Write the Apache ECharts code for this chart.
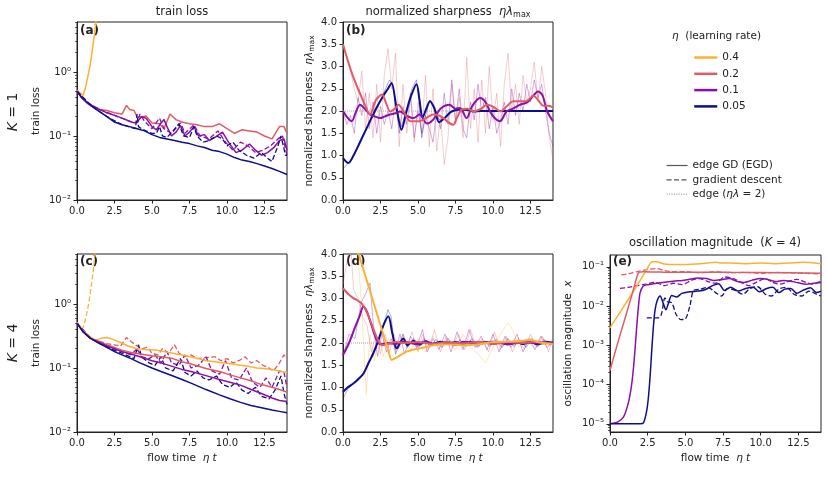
<!DOCTYPE html>
<html>
<head>
<meta charset="utf-8">
<script src="https://cdn.jsdelivr.net/npm/echarts@6/dist/echarts.min.js"></script>
<style>html,body{margin:0;padding:0;background:#fff}#chart{width:827px;height:494px}</style>
</head>
<body>
<div id="chart"></div>
<script>
var FONT = 'DejaVu Sans';
var INK = '#222';
var C04 = '#fcb131', C02 = '#df5c66', C01 = '#8b10a8', C005 = '#0e0e8a';

// tick labels
var tTicks = [0, 2.5, 5, 7.5, 10, 12.5];
var lossTicks = [-2, -1, 0];          // exponents of 10
var oscTicks = [-5, -4, -3, -2, -1];  // exponents of 10
var sharpTicks = [0, 0.5, 1, 1.5, 2, 2.5, 3, 3.5, 4];
var etaNames = ['0.4', '0.2', '0.1', '0.05'];

// (a) train loss, K = 1   [flow time, loss]
var a04 = [[0,0.52],[0.2,0.47],[0.4,0.43],[0.55,0.55],[0.7,0.8],[0.85,1.2],[1.0,2.0],[1.1,3.0],[1.2,4.5],[1.3,7]];
var a02 = [[0,0.5],[0.3,0.4],[0.7,0.32],[1.0,0.29],[1.5,0.26],[2.0,0.25],[2.5,0.23],[3.0,0.22],[3.3,0.3],[3.5,0.26],[3.8,0.25],[4.0,0.2],[4.3,0.2],[4.6,0.205],[5.0,0.16],[5.5,0.155],[5.8,0.13],[6.2,0.22],[6.6,0.18],[7.0,0.165],[7.5,0.155],[8.0,0.15],[8.5,0.14],[9.0,0.14],[9.5,0.155],[10.0,0.13],[10.5,0.11],[11.0,0.125],[11.5,0.12],[12.0,0.115],[12.5,0.1],[13.0,0.09],[13.5,0.14],[13.8,0.14],[14,0.11]];
var a01 = [[0,0.5],[0.3,0.4],[0.7,0.33],[1,0.3],[1.5,0.26],[2,0.23],[2.5,0.21],[3,0.19],[3.5,0.17],[3.8,0.16],[4.0,0.165],[4.3,0.2],[4.6,0.19],[5.0,0.14],[5.3,0.125],[5.6,0.16],[5.8,0.18],[6.0,0.14],[6.3,0.1],[6.6,0.115],[6.9,0.145],[7.2,0.1],[7.5,0.115],[7.8,0.14],[8.1,0.1],[8.5,0.105],[8.8,0.085],[9.2,0.095],[9.7,0.115],[10.1,0.08],[10.6,0.055],[11.0,0.06],[11.5,0.075],[11.9,0.06],[12.3,0.05],[12.7,0.055],[13.1,0.065],[13.5,0.085],[13.8,0.09],[14,0.06]];
var a01gd = [[0,0.5],[0.7,0.33],[1.5,0.26],[2.5,0.21],[3.5,0.17],[4.0,0.16],[4.2,0.22],[4.5,0.17],[5.0,0.13],[5.5,0.19],[5.8,0.13],[6.3,0.11],[6.9,0.16],[7.2,0.11],[7.8,0.15],[8.2,0.1],[8.8,0.09],[9.4,0.12],[9.9,0.08],[10.4,0.06],[10.9,0.08],[11.4,0.07],[11.9,0.055],[12.4,0.06],[12.9,0.07],[13.4,0.09],[13.7,0.1],[14,0.05]];
var a005 = [[0,0.5],[0.3,0.4],[0.7,0.33],[1,0.29],[1.5,0.24],[2,0.2],[2.5,0.165],[3,0.15],[3.5,0.14],[4,0.13],[4.5,0.12],[5,0.105],[5.5,0.095],[6,0.09],[6.5,0.085],[7,0.08],[7.5,0.076],[8,0.07],[8.5,0.066],[9,0.06],[9.5,0.057],[10,0.052],[10.5,0.046],[11,0.042],[11.5,0.04],[12,0.037],[12.5,0.034],[13,0.031],[13.5,0.028],[14,0.025]];
var a005gd = [[0,0.5],[1,0.29],[2,0.2],[3,0.15],[3.9,0.13],[4.0,0.22],[4.1,0.14],[4.3,0.13],[4.6,0.12],[5.0,0.11],[5.3,0.11],[5.5,0.14],[5.7,0.1],[6.0,0.095],[6.4,0.12],[6.8,0.155],[7.1,0.1],[7.5,0.095],[7.8,0.14],[8.0,0.1],[8.4,0.08],[8.8,0.085],[9.3,0.1],[9.7,0.09],[10,0.07],[10.4,0.08],[10.8,0.06],[11.3,0.05],[11.8,0.045],[12.3,0.055],[12.7,0.045],[13.0,0.04],[13.4,0.07],[13.6,0.1],[13.9,0.05],[14,0.05]];

// (b) normalized sharpness, K = 1   [flow time, eta*lambda_max]
var b02 = [[0,3.5],[0.35,3.1],[0.7,2.75],[1.0,2.5],[1.36,2.22],[1.8,1.92],[2.2,2.25],[2.6,2.37],[2.9,2.15],[3.15,1.99],[3.45,2.05],[3.7,2.14],[4.1,1.95],[4.5,1.77],[5.1,1.77],[5.6,1.85],[6.0,1.92],[6.4,1.9],[6.7,1.84],[7.0,1.75],[7.35,1.69],[7.6,1.85],[7.9,2.03],[8.3,2.05],[8.7,1.99],[9.2,2.05],[9.6,2.14],[10.0,2.1],[10.5,1.99],[10.9,2.1],[11.35,2.22],[11.8,2.22],[12.2,2.22],[12.7,2.34],[13.0,2.25],[13.35,2.12],[13.7,2.12],[14,2.08]];
var b01 = [[0,2.0],[0.3,1.85],[0.58,1.77],[0.85,1.97],[1.13,2.14],[1.45,2.05],[1.8,1.92],[2.1,1.88],[2.47,1.84],[2.8,1.88],[3.13,1.92],[3.5,1.95],[3.8,1.99],[4.2,1.9],[4.7,1.84],[5.1,1.92],[5.6,1.72],[6.0,1.8],[6.5,2.05],[7.1,2.14],[7.5,2.05],[7.8,2.07],[8.24,1.84],[8.6,2.1],[9.13,2.29],[9.5,2.2],[9.8,1.99],[10.1,1.85],[10.47,1.77],[10.9,1.99],[11.3,2.05],[11.8,2.14],[12.3,2.2],[12.7,2.35],[13.0,2.44],[13.3,2.35],[13.6,2.0],[14,1.77]];
var b005 = [[0,0.94],[0.36,0.83],[0.7,1.0],[1.2,1.35],[1.7,1.7],[2.2,2.05],[2.7,2.35],[3.0,2.5],[3.24,2.63],[3.55,2.1],[3.9,1.58],[4.2,1.95],[4.5,2.3],[4.9,2.6],[5.1,2.25],[5.3,1.85],[5.55,2.05],[5.8,2.22],[6.1,2.05],[6.4,1.75],[6.8,1.85],[7.2,1.98],[7.7,2.03],[8.2,2.03],[8.7,1.99],[9.2,2.0],[14,2.0]];
var b02gd = [[0,3.5],[0.25,3.2],[0.5,2.9],[0.75,2.5],[1.0,2.2],[1.25,2.9],[1.5,1.6],[1.75,2.4],[2.0,1.4],[2.25,2.6],[2.5,1.3],[2.75,2.8],[3.0,3.4],[3.25,2.5],[3.5,3.3],[3.75,1.2],[4.0,2.6],[4.25,1.5],[4.5,2.3],[4.75,1.3],[5.0,2.2],[5.25,1.5],[5.5,2.8],[5.75,1.2],[6.0,2.5],[6.25,1.1],[6.5,1.9],[6.75,0.8],[7.0,1.4],[7.25,2.6],[7.5,1.7],[7.75,2.3],[8.0,1.4],[8.25,3.2],[8.5,1.6],[8.75,2.5],[9.0,1.3],[9.25,2.7],[9.5,1.5],[9.75,3.0],[10.0,1.8],[10.25,2.4],[10.5,1.2],[10.75,2.6],[11.0,3.3],[11.25,2.0],[11.5,2.6],[11.75,1.7],[12.0,2.8],[12.25,2.2],[12.5,2.5],[12.75,3.1],[13.0,2.2],[13.25,3.0],[13.5,2.4],[13.75,1.4],[14.0,0.9]];
var b01gd = [[0,2.0],[0.25,1.7],[0.5,1.9],[0.75,1.5],[1.0,2.3],[1.25,1.9],[1.5,2.4],[1.75,1.6],[2.0,2.2],[2.25,1.5],[2.5,2.1],[2.75,1.7],[3.0,2.0],[3.25,1.6],[3.5,2.3],[3.75,1.5],[4.0,2.1],[4.25,1.7],[4.5,2.4],[4.75,1.4],[5.0,2.0],[5.25,1.5],[5.5,1.9],[5.75,1.6],[6.0,1.3],[6.25,2.0],[6.5,1.6],[6.75,2.4],[7.0,1.7],[7.25,2.7],[7.5,1.8],[7.75,2.5],[8.0,1.6],[8.25,1.4],[8.5,2.2],[8.75,1.8],[9.0,2.6],[9.25,2.0],[9.5,2.3],[9.75,1.6],[10.0,2.1],[10.25,1.5],[10.5,1.8],[10.75,2.2],[11.0,1.7],[11.25,2.5],[11.5,1.9],[11.75,2.4],[12.0,2.0],[12.25,2.6],[12.5,2.2],[12.75,2.7],[13.0,2.3],[13.25,2.6],[13.5,2.0],[13.75,1.5],[14.0,1.2]];
var b005gd = [[0,0.7],[0.4,0.85],[0.8,1.05],[1.2,1.3],[1.7,1.72],[2.2,2.0],[2.7,2.4],[3.1,2.7],[3.3,2.6],[3.6,2.0],[3.9,1.65],[4.2,2.0],[4.6,2.5],[4.9,2.7],[5.05,2.3],[5.25,1.4],[5.5,1.9],[5.8,2.25],[6.1,2.1],[6.4,1.8],[6.8,1.85],[7.2,2.0],[8,2.02],[9,2.0],[14,2.0]];

// (c) train loss, K = 4
var c04 = [[0,0.52],[0.4,0.38],[0.8,0.32],[1.2,0.27],[1.6,0.29],[2.0,0.3],[2.4,0.28],[2.9,0.25],[3.4,0.22],[4.0,0.2],[4.5,0.195],[5.3,0.19],[5.8,0.18],[6.4,0.17],[7,0.16],[7.5,0.15],[8.1,0.14],[8.6,0.13],[9.2,0.125],[9.8,0.12],[10.4,0.115],[10.9,0.11],[11.5,0.105],[12,0.1],[12.6,0.097],[13.2,0.093],[13.6,0.088],[14,0.085]];
var c04gd = [[0,0.5],[0.15,0.45],[0.35,0.4],[0.5,0.5],[0.7,0.8],[0.85,1.3],[1.0,2.3],[1.1,3.5],[1.2,6],[1.3,9]];
var c02 = [[0,0.5],[0.4,0.37],[0.9,0.29],[1.5,0.26],[2,0.23],[2.5,0.21],[3,0.19],[3.6,0.175],[4.2,0.165],[5,0.155],[5.6,0.15],[6.4,0.14],[7,0.125],[7.6,0.115],[8.6,0.098],[9.5,0.088],[10.2,0.078],[10.9,0.07],[11.6,0.063],[12.3,0.055],[13,0.05],[13.5,0.046],[14,0.042]];
var c02gd = [[0,0.5],[0.4,0.37],[0.9,0.29],[1.5,0.26],[2,0.24],[2.5,0.23],[2.9,0.22],[3.3,0.3],[3.6,0.26],[4.0,0.22],[4.3,0.2],[4.7,0.21],[5.0,0.17],[5.4,0.16],[5.7,0.2],[6.1,0.17],[6.5,0.23],[6.8,0.17],[7.2,0.15],[7.6,0.16],[8.0,0.14],[8.6,0.145],[9.2,0.15],[9.6,0.13],[10,0.14],[10.4,0.12],[10.8,0.13],[11.2,0.15],[11.6,0.12],[12,0.13],[12.4,0.11],[12.8,0.1],[13.1,0.09],[13.5,0.12],[13.8,0.16],[14,0.14]];
var c01 = [[0,0.5],[0.4,0.37],[0.9,0.29],[1.5,0.25],[2,0.22],[2.5,0.2],[3,0.18],[3.6,0.165],[4.2,0.15],[5,0.13],[5.6,0.12],[6.4,0.105],[7,0.095],[7.6,0.088],[8.6,0.076],[9.5,0.066],[10.2,0.06],[10.9,0.054],[11.6,0.046],[12.3,0.04],[13,0.034],[13.5,0.031],[14,0.03]];
var c01gd = [[0,0.5],[0.9,0.29],[2,0.22],[3,0.18],[3.6,0.16],[4.0,0.2],[4.3,0.15],[4.8,0.14],[5.2,0.16],[5.6,0.12],[6.0,0.18],[6.3,0.12],[6.8,0.11],[7.2,0.16],[7.6,0.1],[8.1,0.11],[8.6,0.15],[9.0,0.09],[9.5,0.08],[9.9,0.13],[10.3,0.07],[10.8,0.065],[11.3,0.1],[11.7,0.06],[12.2,0.05],[12.6,0.07],[13.0,0.05],[13.5,0.09],[13.8,0.085],[14,0.05]];
var c005 = [[0,0.5],[0.4,0.37],[0.9,0.29],[1.5,0.24],[2,0.21],[2.5,0.18],[3,0.16],[3.6,0.14],[4.2,0.12],[5,0.1],[5.6,0.088],[6.4,0.075],[7,0.066],[7.6,0.058],[8.6,0.046],[9.5,0.038],[10.2,0.033],[10.9,0.029],[11.6,0.026],[12.3,0.024],[13,0.022],[13.5,0.021],[14,0.02]];
var c005gd = [[0,0.5],[0.9,0.29],[2,0.21],[3,0.17],[3.8,0.14],[4.1,0.23],[4.3,0.15],[4.8,0.12],[5.2,0.11],[5.6,0.15],[5.9,0.1],[6.4,0.09],[6.9,0.14],[7.2,0.085],[7.6,0.075],[8.0,0.09],[8.4,0.07],[8.8,0.065],[9.3,0.075],[9.7,0.055],[10.2,0.05],[10.6,0.06],[11.0,0.045],[11.4,0.04],[11.9,0.05],[12.3,0.036],[12.8,0.033],[13.2,0.045],[13.6,0.075],[13.8,0.04],[14,0.027]];

// (d) normalized sharpness, K = 4
var d04 = [[0,5.2],[0.5,4.6],[1.0,4.05],[1.5,3.5],[2.0,2.95],[2.5,2.4],[3.0,1.85],[3.24,1.62],[3.6,1.68],[4.2,1.8],[4.8,1.86],[5.4,1.9],[6,1.95],[7,1.97],[8,1.95],[9,1.97],[10,2.02],[11,2.03],[12,2.05],[12.5,2.08],[13,2.02],[14,1.97]];
var d02 = [[0,3.23],[0.35,3.1],[0.69,3.01],[1.0,2.95],[1.24,2.89],[1.5,2.75],[1.8,2.52],[2.1,2.25],[2.36,2.05],[2.6,1.95],[2.9,1.97],[3.5,2.02],[4,2.0],[5,2.02],[6,1.98],[7,2.02],[8,1.99],[9,2.03],[10,1.98],[11,2.02],[12,2.0],[13,2.03],[14,1.98]];
var d01 = [[0,1.73],[0.4,2.0],[0.8,2.35],[1.1,2.6],[1.36,2.82],[1.6,2.7],[1.9,2.4],[2.24,2.07],[2.5,1.97],[3,2.0],[3.5,1.98],[4,2.03],[5,1.97],[5.5,2.04],[6,1.99],[7,2.02],[7.5,1.96],[8,2.03],[9,1.98],[10,2.03],[11,1.97],[12,2.02],[13,1.99],[14,2.01]];
var d005 = [[0,0.9],[0.3,1.0],[0.69,1.09],[1.0,1.18],[1.36,1.31],[1.7,1.55],[2.02,1.77],[2.4,2.1],[2.7,2.4],[3.02,2.6],[3.3,2.2],[3.58,1.88],[4.02,2.1],[4.3,1.95],[4.7,2.05],[5.1,1.96],[5.5,2.04],[6,1.97],[6.5,2.03],[7,1.98],[7.5,2.02],[8,1.98],[8.5,2.03],[9,1.97],[9.5,2.02],[10,1.98],[10.5,2.02],[11,1.97],[11.5,2.03],[12,1.98],[12.5,2.02],[13,1.97],[13.5,2.03],[14,2.0]];
var d04gd = [[0,5],[0.8,4.5],[1.0,4.0],[1.3,2.5],[1.55,0.85],[1.8,2.2],[2.1,1.6],[2.4,2.2],[2.7,1.7],[3.0,2.1],[3.5,1.8],[4,2.2],[4.5,1.85],[5,2.1],[5.5,1.8],[6,2.15],[6.5,1.9],[7,2.05],[7.5,1.85],[8,2.2],[8.5,1.9],[9,1.75],[9.5,1.55],[10,1.9],[10.5,2.2],[11,2.45],[11.3,2.3],[11.7,1.9],[12.2,2.1],[12.7,1.9],[13.2,2.15],[13.7,1.95],[14,2.05]];
var d02gd = [[0,3.3],[0.3,3.9],[0.5,4.3],[0.7,3.2],[1.0,3.0],[1.3,2.6],[1.6,2.4],[1.9,1.8],[2.2,2.2],[2.5,1.75],[2.8,2.2],[3.1,1.8],[3.4,2.2],[3.7,1.85],[4.0,2.1],[4.3,1.9],[4.6,2.25],[5.0,1.8],[5.3,2.2],[5.7,1.85],[6.1,2.3],[6.5,1.8],[6.9,2.15],[7.3,1.9],[7.7,2.2],[8.1,1.85],[8.5,2.3],[8.9,1.9],[9.3,2.1],[9.7,1.8],[10.1,2.25],[10.5,1.85],[10.9,2.15],[11.3,1.8],[11.7,2.1],[12.1,1.85],[12.5,2.2],[12.9,1.9],[13.3,2.15],[13.7,1.8],[14,2.15]];
var d01gd = [[0,1.7],[0.4,2.2],[0.8,2.1],[1.2,2.9],[1.5,3.1],[1.8,3.35],[2.0,2.5],[2.3,1.7],[2.6,2.2],[2.9,1.8],[3.2,2.1],[3.5,1.85],[3.8,2.2],[4.1,1.75],[4.5,2.15],[4.9,1.9],[5.3,2.3],[5.6,1.8],[6.0,2.1],[6.4,1.85],[6.8,2.2],[7.2,1.8],[7.6,2.25],[8.0,1.85],[8.4,2.3],[8.8,1.9],[9.2,2.15],[9.6,1.85],[10,2.2],[10.4,1.8],[10.8,2.15],[11.2,1.9],[11.6,2.2],[12,1.8],[12.4,2.1],[12.8,1.85],[13.2,2.15],[13.6,1.9],[14,2.05]];
var d005gd = [[0,0.75],[0.3,0.95],[0.7,1.1],[1.0,1.2],[1.4,1.35],[1.8,1.6],[2.2,1.95],[2.6,2.3],[3.0,2.75],[3.2,2.6],[3.5,1.75],[3.8,2.0],[4.0,2.2],[4.3,1.9],[4.7,2.1],[5.0,1.9],[5.4,2.1],[5.8,1.92],[6.2,2.08],[6.6,1.9],[7,2.1],[7.4,1.93],[7.8,2.07],[8.2,1.92],[8.6,2.1],[9,1.9],[9.4,2.05],[9.8,1.92],[10.2,2.08],[10.6,1.9],[11,2.1],[11.4,1.92],[11.8,2.07],[12.2,1.9],[12.6,2.1],[13,1.92],[13.4,2.08],[13.8,1.95],[14,2.0]];

// (e) oscillation magnitude, K = 4
var e04 = [[0,0.0028],[0.5,0.0055],[1,0.011],[1.5,0.022],[2,0.045],[2.4,0.08],[2.77,0.135],[3.1,0.135],[3.5,0.12],[4,0.115],[5,0.115],[6,0.12],[7,0.13],[7.5,0.125],[8,0.125],[9,0.12],[10,0.125],[11,0.12],[12,0.125],[12.8,0.13],[14,0.12]];
var e02 = [[0,0.00023],[0.5,0.0011],[1,0.0049],[1.5,0.022],[1.88,0.07],[2.2,0.075],[3,0.074],[4,0.072],[6,0.073],[8,0.072],[10,0.071],[12,0.07],[14,0.068]];
var e02gd = [[0.75,0.062],[1.2,0.066],[1.8,0.075],[2.5,0.085],[3.1,0.09],[3.6,0.08],[4.3,0.075],[5,0.075],[6,0.07],[7,0.075],[8,0.07],[9,0.072],[10,0.068],[11,0.072],[12,0.07],[13,0.068],[14,0.066]];
var e01 = [[0,1e-5],[0.5,1.1e-5],[0.9,1.5e-5],[1.2,3.2e-5],[1.4,8e-5],[1.5,1.6e-4],[1.6,4e-4],[1.7,1.26e-3],[1.8,4e-3],[1.9,0.011],[2.0,0.022],[2.2,0.032],[2.5,0.035],[2.88,0.037],[3.5,0.04],[4.2,0.043],[4.8,0.045],[5.3,0.048],[5.8,0.052],[6.4,0.05],[6.9,0.045],[7.4,0.047],[7.9,0.05],[8.4,0.043],[8.9,0.04],[9.4,0.045],[10,0.05],[10.5,0.047],[11,0.042],[11.5,0.045],[12,0.043],[12.5,0.039],[13,0.036],[13.5,0.038],[14,0.04]];
var e01gd = [[0.66,0.028],[1.2,0.03],[1.8,0.033],[2.4,0.036],[3.0,0.04],[3.6,0.033],[4.2,0.038],[4.8,0.035],[5.4,0.045],[5.9,0.05],[6.5,0.042],[7,0.038],[7.6,0.055],[8.2,0.05],[8.7,0.04],[9.2,0.033],[9.7,0.04],[10.3,0.05],[10.8,0.04],[11.3,0.036],[11.8,0.042],[12.4,0.048],[13,0.04],[13.5,0.036],[14,0.045]];
var e005 = [[0,1e-5],[2.0,1e-5],[2.22,1.05e-5],[2.44,2.2e-5],[2.55,4.8e-5],[2.66,1.6e-4],[2.77,7.4e-4],[2.88,0.003],[2.99,0.008],[3.14,0.014],[3.32,0.018],[3.54,0.0115],[3.71,0.008],[3.87,0.0115],[4.1,0.0185],[4.43,0.017],[4.76,0.021],[5.3,0.023],[5.8,0.024],[6.3,0.026],[6.8,0.033],[7.2,0.037],[7.6,0.025],[8.0,0.03],[8.5,0.024],[9.0,0.028],[9.5,0.03],[9.9,0.023],[10.4,0.028],[10.8,0.03],[11.2,0.022],[11.6,0.027],[12.0,0.028],[12.4,0.021],[12.8,0.025],[13.3,0.029],[13.7,0.022],[14,0.024]];
var e005gd = [[2.44,0.005],[3.2,0.005],[3.4,0.006],[3.65,0.016],[3.8,0.013],[4.1,0.012],[4.4,0.006],[4.7,0.0045],[5.0,0.0047],[5.3,0.01],[5.55,0.025],[6.0,0.027],[6.5,0.03],[7.0,0.022],[7.4,0.018],[7.8,0.028],[8.3,0.025],[8.8,0.02],[9.3,0.028],[9.8,0.031],[10.3,0.02],[10.7,0.018],[11.2,0.027],[11.7,0.03],[12.2,0.02],[12.7,0.018],[13.2,0.024],[13.7,0.02],[14,0.018]];

var edgeLine = [[0, 2], [14, 2]];

var lossMin = -2, lossMax = 0.78, oscMin = -5.21, oscMax = -0.7;

function lg(arr) { return arr.map(function (p) { return [p[0], Math.log10(p[1])]; }); }
function minorTicks(lo, hi) {
    var out = [];
    for (var n = Math.floor(lo); n <= Math.ceil(hi); n++)
        for (var k = 2; k <= 9; k++) { var v = n + Math.log10(k); if (v > lo && v < hi) out.push(v); }
    return out;
}
var SUP = {'-':'⁻','0':'⁰','1':'¹','2':'²','3':'³','4':'⁴','5':'⁵'};
function pow10(v) { return '10' + String(Math.round(v)).split('').map(function (c) { return SUP[c]; }).join(''); }

var RICH = {
    i: {fontStyle: 'italic', fontFamily: FONT, fontSize: 10.5, color: INK},
    s: {fontFamily: FONT, fontSize: 7.5, color: INK, verticalAlign: 'bottom', padding: [5, 0, 0, 0]}
};

function xAx(grid, withName) {
    return {
        type: 'value', gridIndex: grid, min: 0, max: 14,
        axisLine: {show: true, onZero: false, lineStyle: {color: INK}},
        axisTick: {show: true, length: 3.5, customValues: tTicks, lineStyle: {color: INK}},
        axisLabel: {customValues: tTicks, formatter: function (v) { return v.toFixed(1); },
            fontSize: 10, fontFamily: FONT, color: INK, margin: 6},
        splitLine: {show: false},
        name: withName ? 'flow time  {i|η t}' : '', nameLocation: 'middle', nameGap: 21,
        nameTextStyle: {fontSize: 10.5, fontFamily: FONT, color: INK, rich: RICH}
    };
}
function yAx(grid, min, max, ticks, fmt, name, gap) {
    return {
        type: 'value', gridIndex: grid, min: min, max: max, position: 'left',
        axisLine: {show: true, onZero: false, lineStyle: {color: INK}},
        axisTick: {show: true, length: 3.5, customValues: ticks, lineStyle: {color: INK}},
        axisLabel: {customValues: ticks, formatter: fmt, fontSize: 10, fontFamily: FONT, color: INK, margin: 6},
        splitLine: {show: false},
        name: name, nameLocation: 'middle', nameGap: gap,
        nameTextStyle: {fontSize: 10.5, fontFamily: FONT, color: INK, rich: RICH}
    };
}
function yMinor(grid, min, max) {
    return {
        type: 'value', gridIndex: grid, min: min, max: max, position: 'left',
        axisLine: {show: false},
        axisTick: {show: true, length: 2, customValues: minorTicks(min, max), lineStyle: {color: INK, width: 0.7}},
        axisLabel: {show: false}, splitLine: {show: false}
    };
}
function S(name, data, ax, color, o) {
    o = o || {};
    return {
        name: name, type: 'line', data: data, xAxisIndex: ax, yAxisIndex: ax,
        symbol: 'none', showSymbol: false, color: color, smooth: o.smooth || false, z: o.z || 3, silent: true,
        lineStyle: {color: color, width: o.w || 1.5, type: o.dash ? [5, 2.4] : (o.type || 'solid'), opacity: o.op || 1}
    };
}
function gridBox(left, top, width, height) {
    return {left: left, top: top, width: width, height: height, show: true,
        borderColor: INK, borderWidth: 1, backgroundColor: 'transparent'};
}

var fmtLog = function (v) { return pow10(v); };
var fmtSharp = function (v) { return v.toFixed(1); };
var sharpName = 'normalized sharpness  {i|ηλ}{s|max}';

var series = [
    // (a)
    S(etaNames[0], lg(a04), 0, C04),
    S(etaNames[1], lg(a02), 0, C02),
    S(etaNames[2], lg(a01), 0, C01),
    S(etaNames[3], lg(a005), 0, C005),
    S('gd 0.1', lg(a01gd), 0, C01, {dash: true, w: 1.3}),
    S('gd 0.05', lg(a005gd), 0, C005, {dash: true, w: 1.3}),
    // (b)
    S('gd 0.2', b02gd, 1, C02, {w: 0.9, op: 0.35, z: 2}),
    S('gd 0.1', b01gd, 1, C01, {w: 0.9, op: 0.4, z: 2}),
    S('gd 0.05', b005gd, 1, C005, {w: 0.9, op: 0.4, z: 2}),
    S('edge (ηλ = 2)', edgeLine, 1, '#aaaaaa', {w: 1, type: 'dotted', z: 2}),
    S(etaNames[3], b005, 1, C005, {w: 2, smooth: 0.3}),
    S(etaNames[2], b01, 1, C01, {w: 2, smooth: 0.3}),
    S(etaNames[1], b02, 1, C02, {w: 2, smooth: 0.3}),
    // (c)
    S('gd 0.4', lg(c04gd), 2, C04, {dash: true, w: 1.3}),
    S('gd 0.2', lg(c02gd), 2, C02, {dash: true, w: 1.3}),
    S('gd 0.1', lg(c01gd), 2, C01, {dash: true, w: 1.3}),
    S('gd 0.05', lg(c005gd), 2, C005, {dash: true, w: 1.3}),
    S(etaNames[0], lg(c04), 2, C04),
    S(etaNames[1], lg(c02), 2, C02),
    S(etaNames[2], lg(c01), 2, C01),
    S(etaNames[3], lg(c005), 2, C005),
    // (d)
    S('gd 0.4', d04gd, 3, C04, {w: 0.9, op: 0.35, z: 2}),
    S('gd 0.2', d02gd, 3, C02, {w: 0.9, op: 0.35, z: 2}),
    S('gd 0.1', d01gd, 3, C01, {w: 0.9, op: 0.4, z: 2}),
    S('gd 0.05', d005gd, 3, C005, {w: 0.9, op: 0.4, z: 2}),
    S('edge (ηλ = 2)', edgeLine, 3, '#aaaaaa', {w: 1, type: 'dotted', z: 2}),
    S(etaNames[3], d005, 3, C005, {w: 2, smooth: 0.3}),
    S(etaNames[2], d01, 3, C01, {w: 2, smooth: 0.3}),
    S(etaNames[1], d02, 3, C02, {w: 2, smooth: 0.3}),
    S(etaNames[0], d04, 3, C04, {w: 2, smooth: 0.2}),
    // (e)
    S('gd 0.2', lg(e02gd), 4, C02, {dash: true, w: 1.3, smooth: 0.3}),
    S('gd 0.1', lg(e01gd), 4, C01, {dash: true, w: 1.3, smooth: 0.3}),
    S('gd 0.05', lg(e005gd), 4, C005, {dash: true, w: 1.3, smooth: 0.3}),
    S(etaNames[0], lg(e04), 4, C04, {smooth: 0.2}),
    S(etaNames[1], lg(e02), 4, C02, {smooth: 0.2}),
    S(etaNames[2], lg(e01), 4, C01, {smooth: 0.3}),
    S(etaNames[3], lg(e005), 4, C005, {smooth: 0.3}),
    // legend-only entries
    S('edge GD (EGD)', [], 0, '#555555', {w: 1.2}),
    S('gradient descent', [], 0, '#555555', {w: 1.2, dash: true})
];

var gRich = {
    i: {fontStyle: 'italic', fontFamily: FONT, fontSize: 11.5, fill: INK},
    s: {fontFamily: FONT, fontSize: 8, fill: INK, verticalAlign: 'bottom', padding: [5, 0, 0, 0]}
};
function gText(x, y, text, o) {
    o = o || {};
    return {type: 'text', x: x, y: y, rotation: o.rot || 0, silent: true,
        style: {text: text, fontFamily: FONT, fontSize: o.fs || 11.5, fontWeight: o.bold ? 'bold' : 'normal',
            fill: INK, align: o.align || 'center', verticalAlign: 'middle', rich: o.rich || gRich}};
}
var kRich = {i: {fontStyle: 'italic', fontFamily: FONT, fontSize: 14, fill: INK}};
var lRich = {i: {fontStyle: 'italic', fontFamily: FONT, fontSize: 10.5, fill: INK}};

var chart = echarts.init(document.getElementById('chart'), null, {renderer: 'canvas'});
chart.setOption({
    animation: false,
    backgroundColor: '#fff',
    textStyle: {fontFamily: FONT},
    grid: [gridBox(77, 22, 210, 178), gridBox(343, 22, 210, 178), gridBox(77, 254, 210, 178),
        gridBox(343, 254, 210, 178), gridBox(610, 255, 211, 177)],
    xAxis: [xAx(0, false), xAx(1, false), xAx(2, true), xAx(3, true), xAx(4, true)],
    yAxis: [
        yAx(0, lossMin, lossMax, lossTicks, fmtLog, 'train loss', 35),
        yAx(1, 0, 4, sharpTicks, fmtSharp, sharpName, 27),
        yAx(2, lossMin, lossMax, lossTicks, fmtLog, 'train loss', 35),
        yAx(3, 0, 4, sharpTicks, fmtSharp, sharpName, 27),
        yAx(4, oscMin, oscMax, oscTicks, fmtLog, 'oscillation magnitude  {i|x}', 36),
        yMinor(0, lossMin, lossMax), yMinor(2, lossMin, lossMax), yMinor(4, oscMin, oscMax)
    ],
    legend: [{
        data: etaNames, orient: 'vertical', left: 688, top: 47, itemWidth: 23, itemHeight: 10, itemGap: 5.3,
        selectedMode: false, lineStyle: {width: 2.5}, itemStyle: {opacity: 0},
        textStyle: {fontSize: 10.5, fontFamily: FONT, color: INK}
    }, {
        data: ['edge GD (EGD)', 'gradient descent', 'edge (ηλ = 2)'], orient: 'vertical', left: 661, top: 155,
        itemWidth: 21, itemHeight: 10, itemGap: 3.3, selectedMode: false, lineStyle: {width: 1.2},
        itemStyle: {opacity: 0},
        formatter: function (n) { return n.indexOf('edge (') === 0 ? 'edge ({i|ηλ} = 2)' : n; },
        textStyle: {fontSize: 10.5, fontFamily: FONT, color: INK,
            rich: {i: {fontStyle: 'italic', fontSize: 10.5, fontFamily: FONT, color: INK}}}
    }],
    graphic: [
        gText(182, 12, 'train loss'),
        gText(448, 12, 'normalized sharpness  {i|ηλ}{s|max}'),
        gText(715, 243, 'oscillation magnitude  ({i|K} = 4)'),
        gText(672, 36, '{i|η}  (learning rate)', {align: 'left', fs: 10.5, rich: lRich}),
        gText(13, 112, '{i|K} = 1', {rot: Math.PI / 2, fs: 14, rich: kRich}),
        gText(13, 343, '{i|K} = 4', {rot: Math.PI / 2, fs: 14, rich: kRich}),
        gText(80, 31, '(a)', {align: 'left', bold: true, fs: 12}),
        gText(346, 31, '(b)', {align: 'left', bold: true, fs: 12}),
        gText(80, 262, '(c)', {align: 'left', bold: true, fs: 12}),
        gText(346, 262, '(d)', {align: 'left', bold: true, fs: 12}),
        gText(613, 262, '(e)', {align: 'left', bold: true, fs: 12})
    ],
    series: series
});
</script>
</body>
</html>
